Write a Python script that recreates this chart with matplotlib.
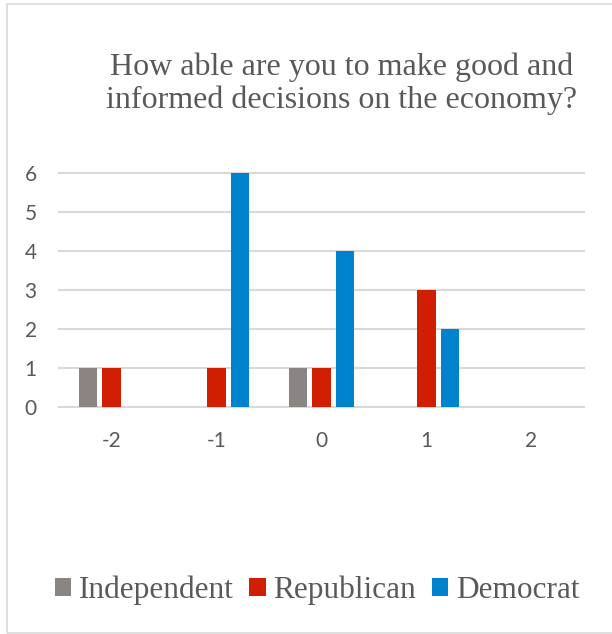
import matplotlib
matplotlib.use("Agg")
import matplotlib.pyplot as plt
from matplotlib.patches import Rectangle, Patch
import numpy as np

categories = ['-2', '-1', '0', '1', '2']
series_names = ['Independent', 'Republican', 'Democrat']
independent = [1, 0, 1, 0, 0]
republican = [1, 1, 1, 3, 0]
democrat = [0, 6, 4, 2, 0]
y_ticks = [0, 1, 2, 3, 4, 5, 6]
title = "How able are you to make good and\ninformed decisions on the economy?"

colors = ['#8A8583', '#CF1F00', '#0083CD']
text_gray = '#595959'
grid_gray = '#D9D9D9'

W, H = 612, 634
fig = plt.figure(figsize=(W / 100, H / 100), dpi=100)

# outer chart border (right edge runs off the canvas)
fig.patches.append(Rectangle((6.5 / W, 1 - 632.5 / H), 1.2, (632.5 - 3.5) / H,
                             transform=fig.transFigure, fill=False,
                             edgecolor=grid_gray, linewidth=1.2, zorder=0))

ax = fig.add_axes([59 / W, 1 - 407.3 / H, 525 / W, 234 / H])
x = np.arange(len(categories))
width = 0.172
offset = 0.228
for i, (vals, c) in enumerate(zip([independent, republican, democrat], colors)):
    ax.bar(x + (i - 1) * offset, vals, width=width, color=c, zorder=3,
           edgecolor='none')

ax.set_xlim(-0.5, len(categories) - 0.5)
ax.set_ylim(0, 6)
ax.set_yticks(y_ticks)
ax.set_xticks(x)
ax.set_xticklabels(categories)
for v in y_ticks:
    ax.axhline(v, color=grid_gray, linewidth=1.5, zorder=1, clip_on=False)
for s in ax.spines.values():
    s.set_visible(False)
ax.tick_params(axis='both', length=0, labelsize=15, labelcolor=text_gray)
ax.tick_params(axis='y', pad=16)
ax.tick_params(axis='x', pad=17)
for lab in ax.get_xticklabels() + ax.get_yticklabels():
    lab.set_fontfamily('Lato')
for lab in ax.get_yticklabels():
    lab.set_verticalalignment('center_baseline')

fig.text(341.5 / W, 1 - 52 / H, title, ha='center', va='top',
         fontfamily='Liberation Serif', fontsize=23, color=text_gray,
         linespacing=1.17)

handles = [Patch(facecolor=c, edgecolor='none') for c in colors]
fig.legend(handles, series_names, loc='center', ncol=3,
           bbox_to_anchor=(317 / W, 1 - 590 / H), frameon=False,
           prop={'family': 'Liberation Serif', 'size': 22.5},
           labelcolor=text_gray, handlelength=0.52, handleheight=0.52,
           handletextpad=0.25, columnspacing=0.5, borderpad=0)

fig.savefig('out.png', dpi=100)
